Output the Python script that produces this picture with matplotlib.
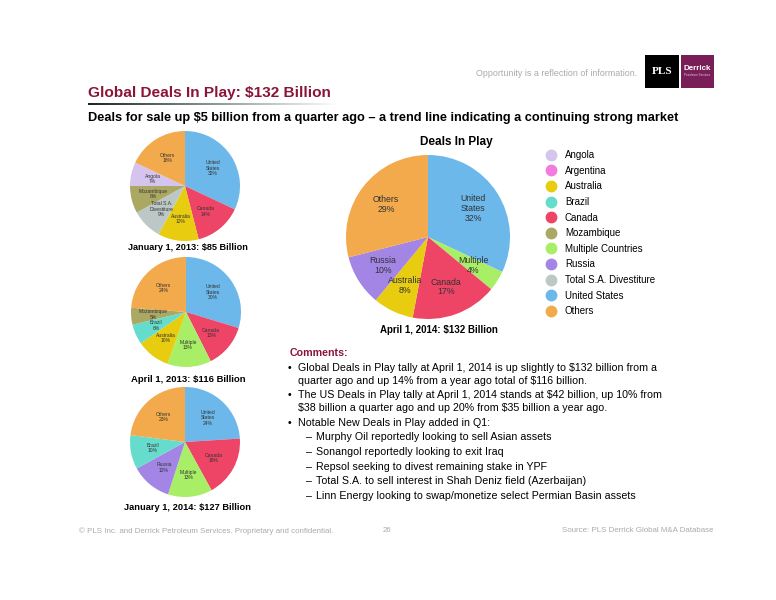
import numpy as np
import matplotlib
matplotlib.use("Agg")
import matplotlib.pyplot as plt
from matplotlib.lines import Line2D
from matplotlib.patches import Rectangle

plt.rcParams['font.family'] = ['Liberation Sans', 'DejaVu Sans']
plt.rcParams['text.parse_math'] = False

# colours per category (shared by every pie and the legend)
legend_names = ['Angola', 'Argentina', 'Australia', 'Brazil', 'Canada', 'Mozambique',
                'Multiple Countries', 'Russia', 'Total S.A. Divestiture', 'United States', 'Others']
legend_colors = ['#D4C4EE', '#F27BE0', '#E8CC10', '#66DDCC', '#EE4466', '#AAA862',
                 '#A8EE66', '#A285E4', '#BCC8C6', '#6CB8EA', '#F2AA4C']
cmap = dict(zip(legend_names, legend_colors))

# January 1, 2013
jan13_cats = ['United States', 'Canada', 'Australia', 'Total S.A. Divestiture', 'Mozambique', 'Angola', 'Others']
jan13_labels = ['United\nStates', 'Canada', 'Australia', 'Total S.A.\nDivestiture', 'Mozambique', 'Angola', 'Others']
jan13_vals = [32, 14, 12, 9, 8, 7, 18]

# April 1, 2013
apr13_cats = ['United States', 'Canada', 'Multiple Countries', 'Australia', 'Brazil', 'Mozambique', 'Others']
apr13_labels = ['United\nStates', 'Canada', 'Multiple', 'Australia', 'Brazil', 'Mozambique', 'Others']
apr13_vals = [30, 13, 13, 10, 6, 5, 24]

# January 1, 2014
jan14_cats = ['United States', 'Canada', 'Multiple Countries', 'Russia', 'Brazil', 'Others']
jan14_labels = ['United\nStates', 'Canada', 'Multiple', 'Russia', 'Brazil', 'Others']
jan14_vals = [24, 18, 13, 12, 10, 23]

# April 1, 2014 (main)
apr14_cats = ['United States', 'Multiple Countries', 'Canada', 'Australia', 'Russia', 'Others']
apr14_labels = ['United\nStates', 'Multiple', 'Canada', 'Australia', 'Russia', 'Others']
apr14_vals = [32, 4, 17, 8, 10, 29]

W, H = 776, 600
fig = plt.figure(figsize=(W / 100, H / 100), dpi=100)


def fx(x):
    return x / W


def fy(y):
    return 1 - y / H


def draw_pie(cx, cy, r, cats, labels, vals, fs, ld):
    ax = fig.add_axes([fx(cx - r), fy(cy + r), 2 * r / W, 2 * r / H])
    txt = [f"{l}\n{v}%" for l, v in zip(labels, vals)]
    wedges, texts = ax.pie(vals, labels=txt, colors=[cmap[c] for c in cats],
                           startangle=90, counterclock=False, labeldistance=ld,
                           wedgeprops=dict(linewidth=0),
                           textprops=dict(fontsize=fs, color='#333333'))
    for t in texts:
        t.set_ha('center')
        t.set_va('center')
        t.set_linespacing(1.1)
    ax.set_xlim(-1, 1)
    ax.set_ylim(-1, 1)
    ax.set_aspect('equal')
    ax.axis('off')
    return ax


draw_pie(185, 186, 55, jan13_cats, jan13_labels, jan13_vals, 3.6, 0.6)
draw_pie(186, 312, 55, apr13_cats, apr13_labels, apr13_vals, 3.6, 0.6)
draw_pie(185, 442, 55, jan14_cats, jan14_labels, jan14_vals, 3.6, 0.6)
draw_pie(428, 237, 82, apr14_cats, apr14_labels, apr14_vals, 6.3, 0.65)

# captions
fig.text(fx(187.5), fy(248), 'January 1, 2013: $85 Billion', fontsize=6.6, fontweight='bold', ha='center', va='center')
fig.text(fx(188), fy(379), 'April 1, 2013: $116 Billion', fontsize=6.8, fontweight='bold', ha='center', va='center')
fig.text(fx(187.5), fy(508), 'January 1, 2014: $127 Billion', fontsize=6.7, fontweight='bold', ha='center', va='center')
fig.text(fx(439), fy(330), 'April 1, 2014: $132 Billion', fontsize=7, fontweight='bold', ha='center', va='center')
fig.text(fx(456), fy(142), 'Deals In Play', fontsize=8.5, fontweight='bold', ha='center', va='center')

# legend
handles = [Line2D([], [], marker='o', linestyle='none', markersize=7.5,
                  markerfacecolor=c, markeredgecolor=c) for c in legend_colors]
fig.legend(handles, legend_names, loc='upper left', bbox_to_anchor=(fx(545), fy(150)),
           frameon=False, fontsize=7, labelspacing=0.58, handletextpad=0.85,
           borderaxespad=0, borderpad=0, handlelength=1.2)

# header
maroon = '#8A1538'
fig.text(fx(88), fy(93), 'Global Deals In Play: $132 Billion', fontsize=11.1, fontweight='bold',
         color=maroon, ha='left', va='center')
gax = fig.add_axes([fx(88), fy(105), fx(340) - fx(88), 2 / H])
grad = np.linspace(0, 1, 256).reshape(1, -1)
gax.imshow(grad, aspect='auto', cmap=matplotlib.colors.LinearSegmentedColormap.from_list(
    'g', ['#222222', '#8A9A90', '#FFFFFF']))
gax.axis('off')
fig.text(fx(88), fy(118), 'Deals for sale up $5 billion from a quarter ago \u2013 a trend line indicating a continuing strong market',
         fontsize=9.2, fontweight='bold', ha='left', va='center')
fig.text(fx(637), fy(73), 'Opportunity is a reflection of information.', fontsize=6.4,
         color='#AAAAAA', ha='right', va='center')

# logos
fig.patches.append(Rectangle((fx(645), fy(88)), 34 / W, 33 / H, transform=fig.transFigure,
                             facecolor='black', edgecolor='none'))
fig.patches.append(Rectangle((fx(681), fy(88)), 33 / W, 33 / H, transform=fig.transFigure,
                             facecolor='#7A1E58', edgecolor='none'))
fig.text(fx(662), fy(71), 'PLS', fontsize=8, color='white', family='Liberation Serif',
         fontweight='bold', ha='center', va='center')
fig.text(fx(697.5), fy(69), 'Derrick', fontsize=5.8, color='white', fontweight='bold',
         ha='center', va='center')
fig.text(fx(697.5), fy(75), 'Petroleum Services', fontsize=2.2, color='#DDCCDD',
         ha='center', va='center')

# comments
fs_c = 7.65
fig.text(fx(290), fy(353), 'Comments:', fontsize=fs_c, fontweight='bold', color=maroon,
         ha='left', va='center')
bullets = [
    (368, '\u2022', 'Global Deals in Play tally at April 1, 2014 is up slightly to $132 billion from a'),
    (381, '', 'quarter ago and up 14% from a year ago total of $116 billion.'),
    (395, '\u2022', 'The US Deals in Play tally at April 1, 2014 stands at $42 billion, up 10% from'),
    (408, '', '$38 billion a quarter ago and up 20% from $35 billion a year ago.'),
    (423, '\u2022', 'Notable New Deals in Play added in Q1:'),
]
for y, b, s in bullets:
    if b:
        fig.text(fx(288), fy(y), b, fontsize=fs_c, ha='left', va='center')
    fig.text(fx(298), fy(y), s, fontsize=fs_c, ha='left', va='center')
subs = [
    (437, 'Murphy Oil reportedly looking to sell Asian assets'),
    (452, 'Sonangol reportedly looking to exit Iraq'),
    (467, 'Repsol seeking to divest remaining stake in YPF'),
    (481, 'Total S.A. to sell interest in Shah Deniz field (Azerbaijan)'),
    (496, 'Linn Energy looking to swap/monetize select Permian Basin assets'),
]
for y, s in subs:
    fig.text(fx(306), fy(y), '\u2013', fontsize=fs_c, ha='left', va='center')
    fig.text(fx(316), fy(y), s, fontsize=fs_c, ha='left', va='center')

# footer
fig.text(fx(79), fy(531), '\u00a9 PLS Inc. and Derrick Petroleum Services. Proprietary and confidential.',
         fontsize=5.7, color='#AAAAAA', ha='left', va='center')
fig.text(fx(383), fy(531), '26', fontsize=5.7, color='#AAAAAA', ha='left', va='center')
fig.text(fx(713), fy(531), 'Source: PLS Derrick Global M&A Database', fontsize=5.7,
         color='#AAAAAA', ha='right', va='center')

fig.savefig('out.png', dpi=100)
